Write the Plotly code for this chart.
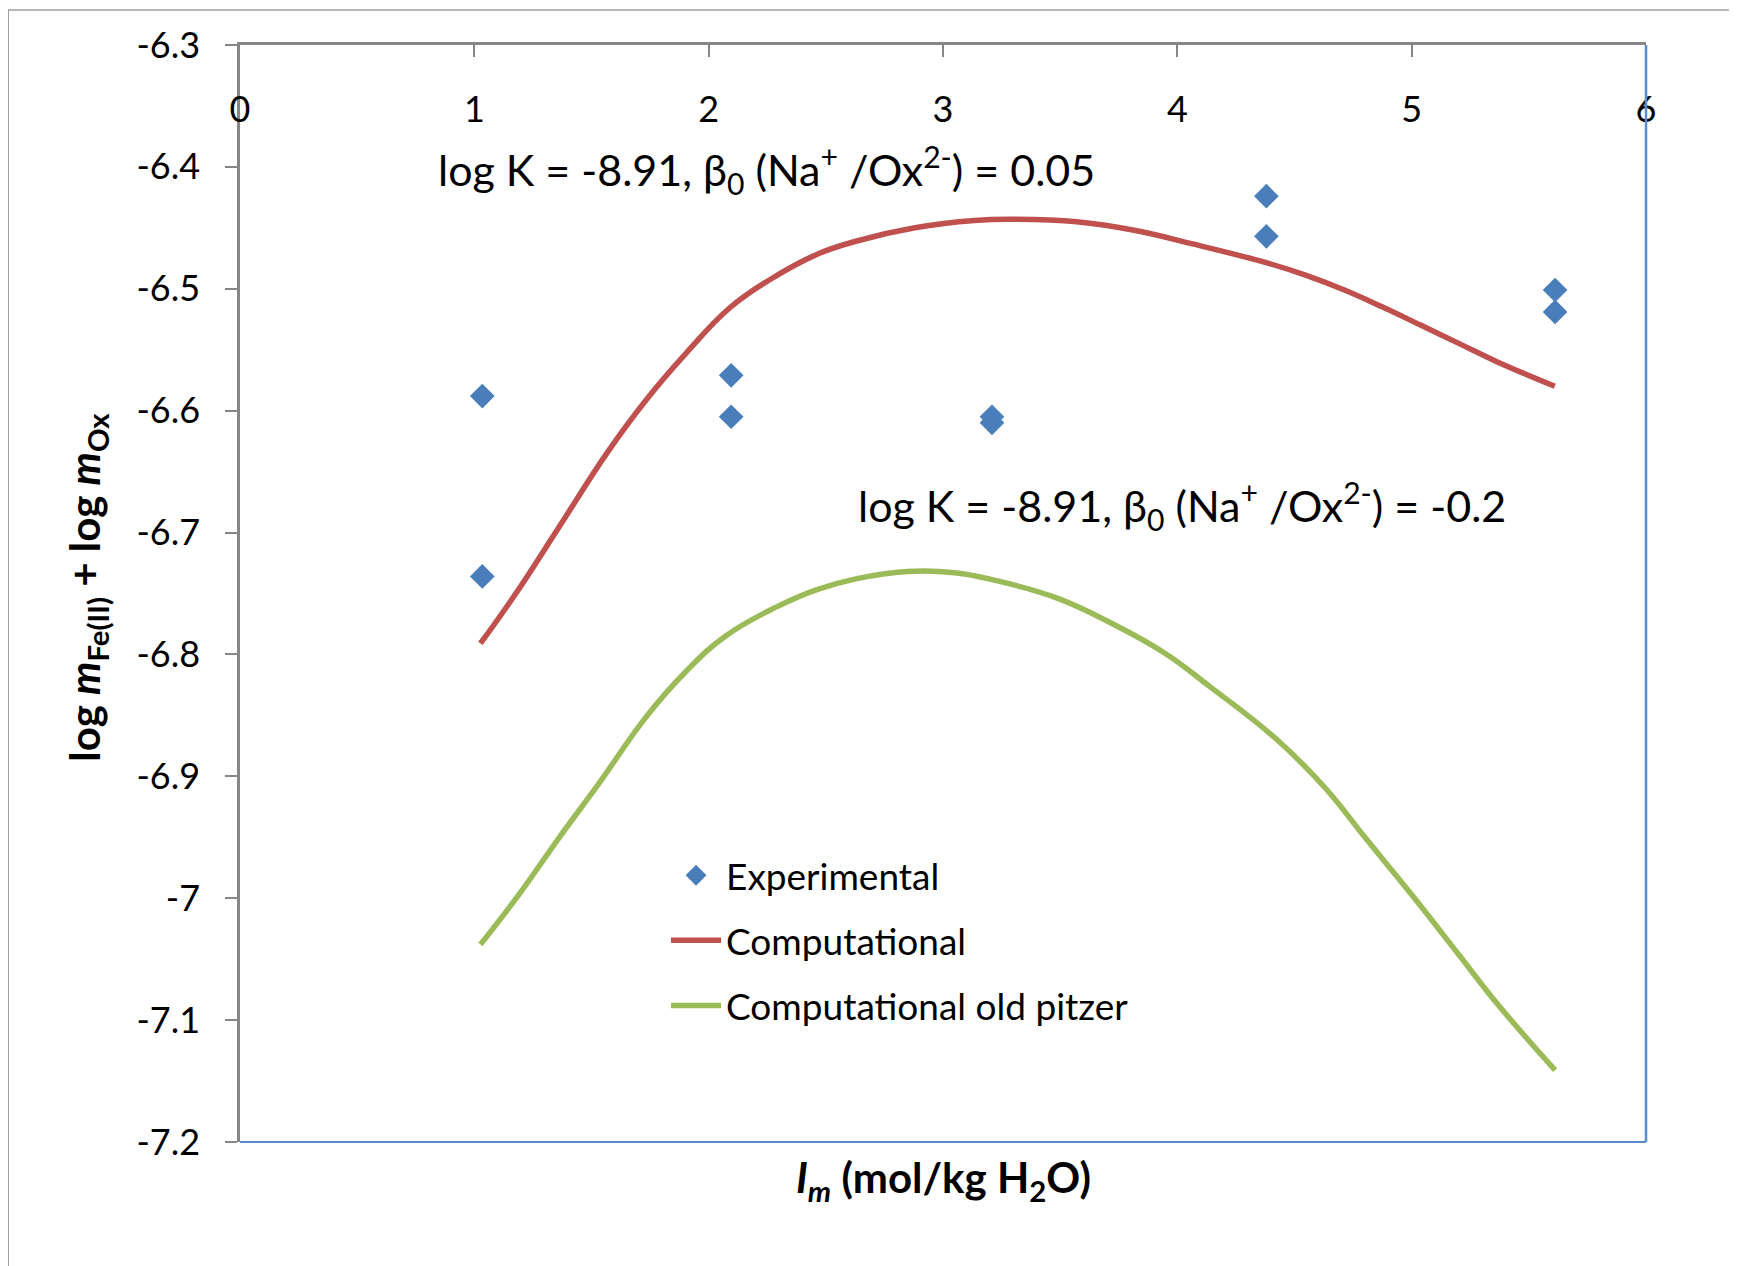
import plotly.graph_objects as go

# ---------------- data ----------------
exp_x = [1.034, 1.034, 2.096, 2.096, 3.209, 3.209, 4.380, 4.380, 5.612, 5.612]
exp_y = [-6.588, -6.736, -6.571, -6.605, -6.605, -6.610, -6.424, -6.457, -6.501, -6.519]

comp_x = [1.026, 1.177, 1.363, 1.565, 1.734, 1.903, 2.088, 2.257, 2.459, 2.628,
          2.880, 3.134, 3.302, 3.571, 3.816, 4.061, 4.387, 4.550, 4.713, 4.876,
          5.040, 5.203, 5.366, 5.611]
comp_y = [-6.791, -6.750, -6.695, -6.635, -6.591, -6.553, -6.516, -6.493, -6.472, -6.461,
          -6.450, -6.444, -6.443, -6.445, -6.452, -6.463, -6.479, -6.489, -6.501, -6.515,
          -6.530, -6.545, -6.560, -6.580]

old_x = [1.026, 1.194, 1.363, 1.531, 1.734, 1.903, 2.071, 2.290, 2.459, 2.628,
         2.847, 3.050, 3.218, 3.490, 3.735, 3.947, 4.143, 4.420, 4.633, 4.796,
         5.008, 5.204, 5.367, 5.612]
old_y = [-7.038, -6.996, -6.950, -6.906, -6.851, -6.814, -6.785, -6.761, -6.747, -6.738,
         -6.732, -6.733, -6.739, -6.754, -6.776, -6.799, -6.827, -6.869, -6.910, -6.949,
         -6.999, -7.047, -7.087, -7.141]

x_ticks = [0, 1, 2, 3, 4, 5, 6]
y_ticks = [-6.3, -6.4, -6.5, -6.6, -6.7, -6.8, -6.9, -7.0, -7.1, -7.2]
y_tick_labels = ["-6.3", "-6.4", "-6.5", "-6.6", "-6.7", "-6.8", "-6.9", "-7", "-7.1", "-7.2"]

FONT = "Lato, 'Open Sans', sans-serif"
BLUE = "#4A7EBB"
RED = "#C0504D"
GREEN = "#9BBB59"
AXIS_GRAY = "#868686"

fig = go.Figure()
fig.add_trace(go.Scatter(x=exp_x, y=exp_y, mode="markers", name="Experimental",
                         legendgroup="a",
                         marker=dict(symbol="diamond", size=19, color=BLUE)))
fig.add_trace(go.Scatter(x=comp_x, y=comp_y, mode="lines", name="Computational",
                         legendgroup="b",
                         line=dict(color=RED, width=5.5, shape="spline", smoothing=1.2)))
fig.add_trace(go.Scatter(x=old_x, y=old_y, mode="lines", name="Computational old pitzer",
                         legendgroup="c",
                         line=dict(color=GREEN, width=5.5, shape="spline", smoothing=1.2)))

fig.update_layout(
    width=1737, height=1266,
    margin=dict(l=232, r=99, t=37, b=132),
    paper_bgcolor="white", plot_bgcolor="white",
    font=dict(family=FONT, color="black"),
    showlegend=True,
    legend=dict(x=0.303, y=0.271, xanchor="left", yanchor="top",
                font=dict(size=37, family=FONT, color="black"),
                bgcolor="rgba(0,0,0,0)", traceorder="grouped",
                tracegroupgap=14, itemwidth=50),
    xaxis=dict(range=[0, 6], side="top", tickvals=x_ticks,
               ticktext=[str(v) for v in x_ticks],
               showline=True, linecolor=AXIS_GRAY, linewidth=2.5,
               ticks="inside", ticklen=12, tickcolor=AXIS_GRAY, tickwidth=1.5,
               ticklabelposition="inside", ticklabeloverflow="allow",
               ticklabelstandoff=44,
               tickfont=dict(size=36, family=FONT, color="black"),
               showgrid=False, zeroline=False, fixedrange=True),
    yaxis=dict(range=[-7.2, -6.3], tickvals=y_ticks, ticktext=y_tick_labels,
               showline=True, linecolor=AXIS_GRAY, linewidth=2.5,
               ticks="outside", ticklen=12, tickcolor=AXIS_GRAY, tickwidth=1.5,
               ticklabelstandoff=18,
               tickfont=dict(size=36, family=FONT, color="black"),
               showgrid=False, zeroline=False, fixedrange=True),
)

# plot-area frame (right and bottom edges, blue)
fig.add_shape(type="line", xref="paper", yref="paper", x0=0, x1=1, y0=0, y1=0,
              line=dict(color="#5B8BCB", width=2))
fig.add_shape(type="line", xref="paper", yref="paper", x0=1, x1=1, y0=0, y1=1,
              line=dict(color="#5B8BCB", width=2.5))
# slide frame lines
fig.add_shape(type="line", xref="paper", yref="paper", x0=-0.165, x1=1.08, y0=1.032, y1=1.032,
              line=dict(color="#A0A0A0", width=1.5))
fig.add_shape(type="line", xref="paper", yref="paper", x0=-0.165, x1=-0.165, y0=1.032, y1=-0.13,
              line=dict(color="#A0A0A0", width=2))

# annotations
fig.add_annotation(x=0.835, y=-6.402, xref="x", yref="y", xanchor="left", yanchor="middle",
                   showarrow=False,
                   text="log K = -8.91, β<sub>0</sub> (Na<sup>+</sup> /Ox<sup>2-</sup>) = 0.05",
                   font=dict(size=43, family=FONT, color="black"))
fig.add_annotation(x=2.63, y=-6.678, xref="x", yref="y", xanchor="left", yanchor="middle",
                   showarrow=False,
                   text="log K = -8.91, β<sub>0</sub> (Na<sup>+</sup> /Ox<sup>2-</sup>) = -0.2",
                   font=dict(size=43, family=FONT, color="black"))

# axis titles
fig.add_annotation(x=0.5, y=-0.0345, xref="paper", yref="paper", xanchor="center", yanchor="middle",
                   showarrow=False,
                   text="<b><i>I<sub>m</sub></i> (mol/kg H<sub>2</sub>O)</b>",
                   font=dict(size=42, family=FONT, color="black"))
fig.add_annotation(x=-0.109, y=0.506, xref="paper", yref="paper", xanchor="center", yanchor="middle",
                   showarrow=False, textangle=-90,
                   text="<b>log <i>m</i><sub>Fe(II)</sub> + log <i>m</i><sub>Ox</sub></b>",
                   font=dict(size=42, family=FONT, color="black"))

fig.write_html("out.html")
